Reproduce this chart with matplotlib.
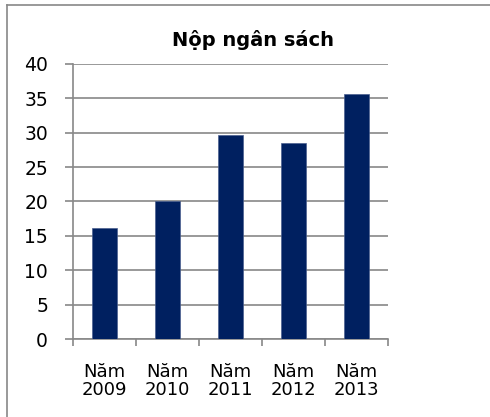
import matplotlib.pyplot as plt
from matplotlib.lines import Line2D

years = ['Năm\n2009', 'Năm\n2010', 'Năm\n2011', 'Năm\n2012', 'Năm\n2013']
values = [16.1, 20.0, 29.6, 28.5, 35.6]

plt.rcParams['font.family'] = ['DejaVu Sans']

fig = plt.figure(figsize=(4.9, 4.17), dpi=100)
ax = fig.add_axes([0.149, 0.187, 0.643, 0.66])

# outer chart frame: only the left and top edges are inside the image
fx, fy = 7 / 490, 1 - 5 / 417
fig.add_artist(Line2D([fx, 1.0], [fy, fy], transform=fig.transFigure,
                      color='#888888', linewidth=1.2))
fig.add_artist(Line2D([fx, fx], [0.0, fy], transform=fig.transFigure,
                      color='#888888', linewidth=1.2))

x = range(len(years))
ax.bar(x, values, width=0.4, color='#002060', edgecolor='#4a5f8f', linewidth=0.5, zorder=3)

ax.set_xlim(-0.5, 4.5)
ax.set_ylim(0, 40)
ax.set_yticks(range(0, 41, 5))
ax.yaxis.grid(True, color='#999999', linewidth=1.4, zorder=0)
ax.set_xticks([i + 0.5 for i in range(-1, 5)])
ax.set_xticklabels([])
ax.set_xticks(list(x), minor=True)
ax.set_xticklabels(years, minor=True, fontsize=13, linespacing=1.0)
ax.tick_params(axis='x', which='minor', length=0, pad=17)
ax.tick_params(axis='x', which='major', length=5, color='#888888', width=1.2)
ax.tick_params(axis='y', length=6, color='#888888', width=1.2, labelsize=13.5, pad=12)

for s in ['top', 'right']:
    ax.spines[s].set_visible(False)
for s in ['left', 'bottom']:
    ax.spines[s].set_color('#888888')
    ax.spines[s].set_linewidth(1.2)

fig.text(0.516, 1 - 46 / 417, 'Nộp ngân sách', fontsize=14, fontweight='bold',
         ha='center', va='baseline')

fig.savefig('out.png', dpi=100)
